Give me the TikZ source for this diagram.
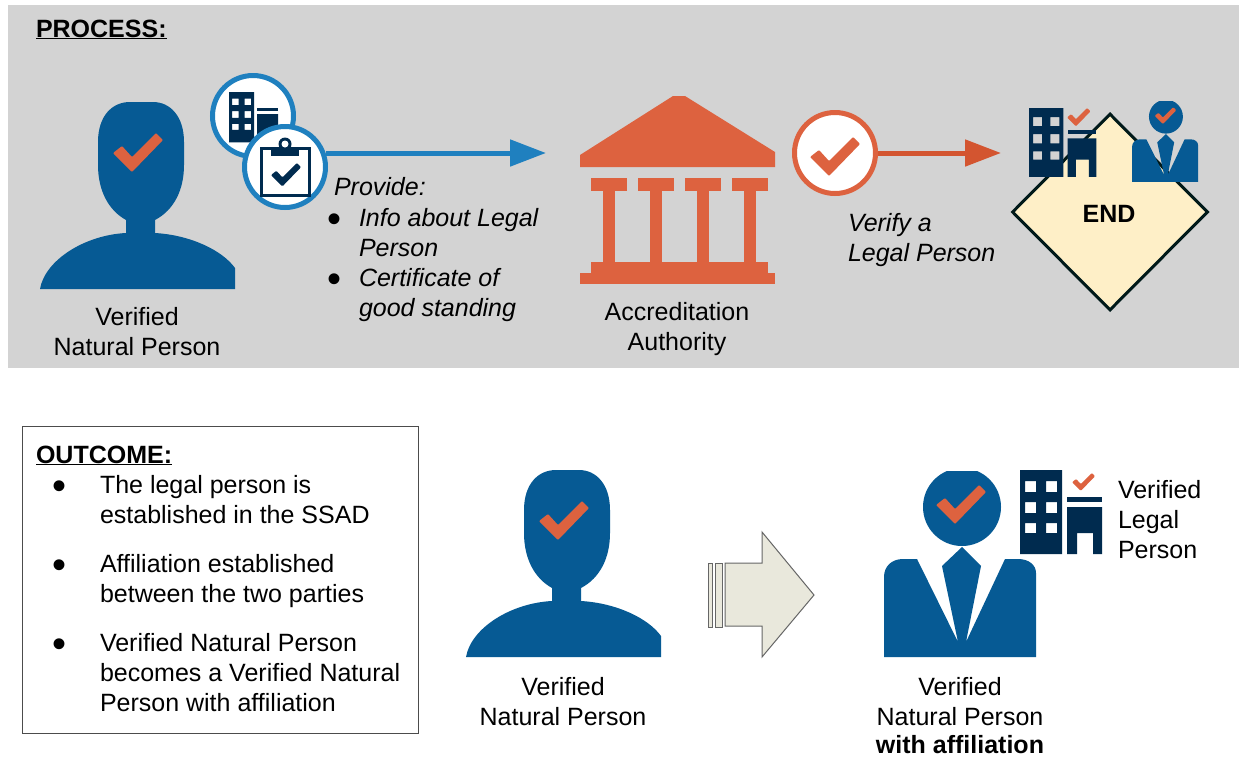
\documentclass[tikz,border=0pt]{standalone}
\usepackage{fontspec}
\setmainfont{Liberation Sans}
\usetikzlibrary{arrows.meta,shapes.geometric}
\definecolor{bluebody}{HTML}{065A94}
\definecolor{navy}{HTML}{002B4F}
\definecolor{accent}{HTML}{DD623F}
\definecolor{arroworange}{HTML}{D35530}
\definecolor{ringblue}{HTML}{1F80BF}
\definecolor{panelgray}{HTML}{D3D3D3}
\definecolor{endfill}{HTML}{FEEFC7}
\definecolor{bigarrow}{HTML}{E9E8DC}
\newcommand{\bul}{\makebox[0pt][l]{\hspace*{-2.4pt}\raisebox{-6pt}{\fontsize{40}{30}\selectfont •}}}
\newcommand{\chkpath}{(0,20)--(9,13)--(19,24)--(43,0)--(50,7)--(19,39)--cycle}
\tikzset{
  x=1pt,y=-1pt,
  lbl/.style={inner sep=0,outer sep=0,text=black,font=\fontsize{25}{30}\selectfont},
  ctr/.style={lbl,align=center},
  lft/.style={lbl,align=left},
  ring/.style={circle,draw,line width=5pt,fill=white,minimum size=81pt,inner sep=0},
  checkpic/.pic={\fill[pic actions,rounded corners=1pt] \chkpath;},
  personpic/.pic={
    \fill[bluebody] (86,118) .. controls (68,108) and (58,88) .. (58,63) -- (58,40)
      .. controls (58,14) and (72,0) .. (90,0) -- (113,0)
      .. controls (130,0) and (144,14) .. (144,40) -- (144,63)
      .. controls (144,88) and (134,108) .. (115,118) -- (115,131)
      .. controls (150,133) and (182,148) .. (195,166) -- (195,187) -- (0,187)
      .. controls (5,158) and (45,133) .. (86,131) -- cycle;
    \fill[accent,rounded corners=1pt,shift={(73,31)}] \chkpath;
  },
  suitpic/.pic={
    \begin{scope}
      \clip (0,0) rectangle (152,80);
      \fill[bluebody] (78,36) circle[radius=39];
    \end{scope}
    \fill[bluebody] (0,186) -- (0,106) .. controls (0,95) and (8,88) .. (19,88) -- (33,88) -- (74,171)
      -- (58,95) -- (78,76) -- (97,95) -- (82,171) -- (121,88) -- (134,88)
      .. controls (145,88) and (152,94) .. (152,102) -- (152,186) -- cycle;
    \fill[accent,rounded corners=1pt,shift={(52,14)}] \chkpath;
  },
  buildingpic/.pic={
    \fill[navy,even odd rule] (0,0) rectangle (42,84)
      (5,11) rectangle (16,22) (26,11) rectangle (37,22)
      (5,32) rectangle (16,43) (26,32) rectangle (37,43)
      (5,53) rectangle (16,63) (26,53) rectangle (37,63);
    \fill[navy] (47,27) rectangle (82,32);
    \fill[navy] (47,84) -- (47,37) -- (82,37) -- (82,84) -- (73,84) -- (73,63) -- (57,63) -- (57,84) -- cycle;
  },
}
\begin{document}
\begin{tikzpicture}
\useasboundingbox (0,0) rectangle (1239,756);
\fill[white] (0,0) rectangle (1239,756);
\fill[panelgray] (8,5) rectangle (1239,368);

\node[lft,anchor=base west] (process) at (36,37) {\textbf{\underline{PROCESS:}}};

% verified natural person, top
\pic at (40,102) {personpic};
\node[ctr,anchor=center] (vnp1) at (137,332) {Verified\\Natural Person};

% blue connector and round icons
\coordinate (blueend) at (546,153);
\node[ring,draw=ringblue] (docs1) at (253,116) {};
\pic[scale=.6] at (229,92) {buildingpic};
\node[ring,draw=ringblue] (docs2) at (285,167) {};
\draw[line width=5pt,ringblue,-{Triangle[length=36pt,width=26pt]}] (docs2.19) -- (docs2.19 -| blueend);
\draw[navy,line width=3pt] (261,148) rectangle (309,195);
\fill[navy] (271,147) rectangle (299,156);
\fill[navy] (285,144) circle[radius=6.5];
\fill[white] (285,144) circle[radius=3.5];
\pic[fill=navy,scale=.6] at (271,163) {checkpic};

\node[lft,anchor=west] (provide) at (334,187) {\textit{Provide:}};
\node[lft,anchor=north west] (items) at (330,208) {\bul\hspace*{29pt}\textit{Info about Legal}\\\hspace*{29pt}\textit{Person}\\\bul\hspace*{29pt}\textit{Certificate of}\\\hspace*{29pt}\textit{good standing}};

% accreditation authority
\fill[accent] (580,155) -- (673,96) -- (685,96) -- (775,152) -- (775,167) -- (580,167) -- cycle;
\foreach \cx in {591,638,685,732}{
  \fill[accent] (\cx,178) rectangle +(36,13);
  \fill[accent] (\cx+12,190) rectangle +(12,73);
}
\fill[accent] (591,262) rectangle (768,274);
\fill[accent] (580,273) rectangle (775,284);
\node[ctr] (auth) at (677,329.5) {Accreditation\\Authority};

% orange connector
\coordinate (orangeend) at (1001,153);
\node[ring,draw=accent] (verify) at (835,153) {};
\pic[fill=accent] at (810,137) {checkpic};
\draw[line width=5pt,arroworange,-{Triangle[length=36pt,width=26pt]}] (verify.east) -- (orangeend);
\node[lft,anchor=west] (verifytxt) at (848,240) {\textit{Verify a}\\\textit{Legal Person}};

% end
\node[diamond,aspect=1,draw=black!80!teal,line width=3pt,fill=endfill,minimum width=196pt,minimum height=197pt,inner sep=0] (endd) at (1110,212) {};
\node[lbl] (endt) at (1109,214) {\textbf{END}};
\pic[scale=.82] at (1029,108) {buildingpic};
\pic[fill=accent,scale=.47] at (1067,108) {checkpic};
\pic[scale=.435] at (1132,101) {suitpic};

% outcome box
\node[draw=black!70,line width=1pt,minimum width=395.5pt,minimum height=307pt,inner sep=0,anchor=north west] (box) at (22,426) {};
\node[lft,anchor=base west] (outcome) at (36,463) {\textbf{\underline{OUTCOME:}}};
\node[lft,anchor=north west] (bul1) at (55,475.5) {\bul\hspace*{45pt}The legal person is\\\hspace*{45pt}established in the SSAD\\[19pt]\bul\hspace*{45pt}Affiliation established\\\hspace*{45pt}between the two parties\\[19pt]\bul\hspace*{45pt}Verified Natural Person\\\hspace*{45pt}becomes a Verified Natural\\\hspace*{45pt}Person with affiliation};

% outcome icons
\pic at (466,470) {personpic};
\node[ctr] (vnp2) at (563,702) {Verified\\Natural Person};

\draw[draw=black!60,fill=bigarrow,line width=1pt] (708,563) rectangle (712,627);
\draw[draw=black!60,fill=bigarrow,line width=1pt] (715,563) rectangle (722,627);
\draw[draw=black!60,fill=bigarrow,line width=1pt] (725,563) -- (762,563) -- (762,532) -- (814,595) -- (762,657) -- (762,626) -- (725,626) -- cycle;

\pic at (884,471) {suitpic};
\pic at (1020,470) {buildingpic};
\pic[fill=accent,scale=.46] at (1072,473) {checkpic};
\node[ctr,anchor=north] (vnp3) at (960,677.5) {Verified\\Natural Person\\[-2pt]\textbf{with affiliation}};
\node[lft,anchor=north west] (vlp) at (1118,480.5) {Verified\\Legal\\Person};
\end{tikzpicture}
\end{document}
